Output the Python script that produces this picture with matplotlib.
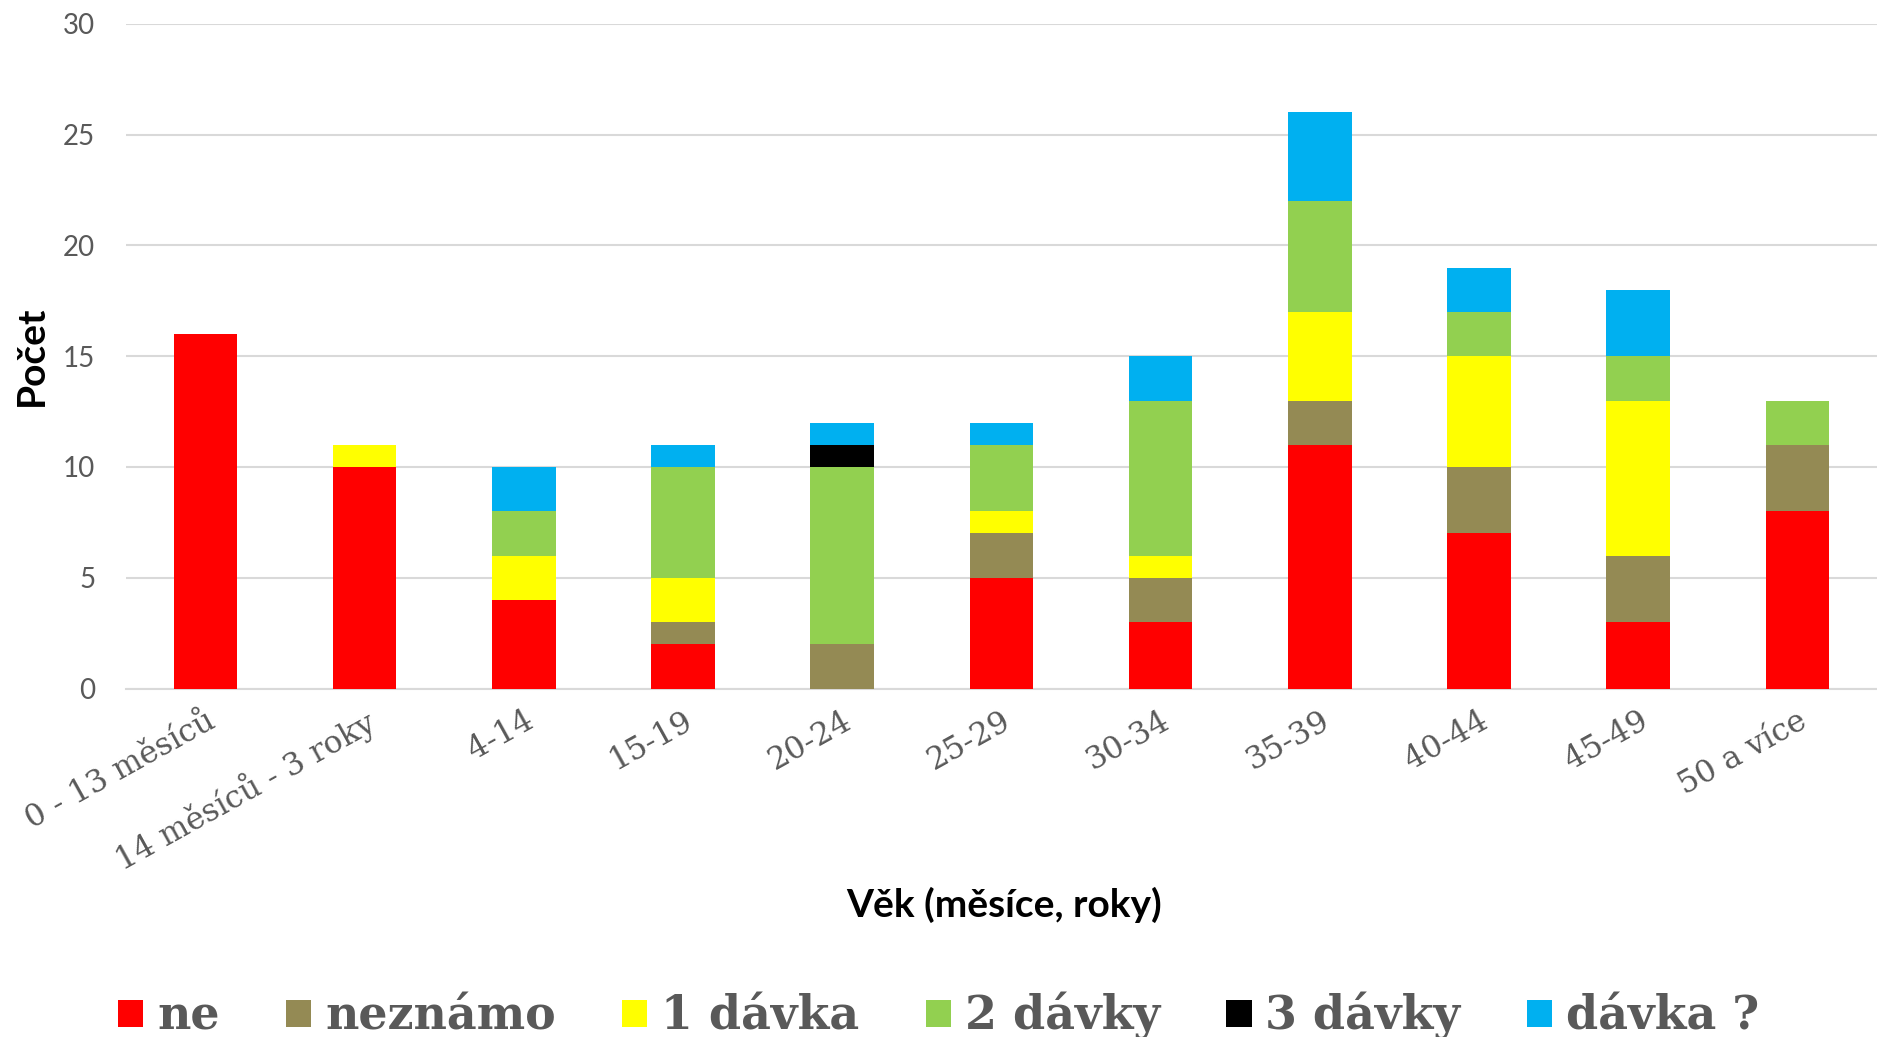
import numpy as np
import matplotlib
matplotlib.use("Agg")
import matplotlib.pyplot as plt

# age groups
categories = ["0 - 13 měsíců", "14 měsíců - 3 roky", "4-14", "15-19", "20-24",
              "25-29", "30-34", "35-39", "40-44", "45-49", "50 a více"]

# counts per vaccination status
ne       = [16, 10, 4, 2, 0, 5, 3, 11, 7, 3, 8]
neznamo  = [0, 0, 0, 1, 2, 2, 2, 2, 3, 3, 3]
davka1   = [0, 1, 2, 2, 0, 1, 1, 4, 5, 7, 0]
davky2   = [0, 0, 2, 5, 8, 3, 7, 5, 2, 2, 2]
davky3   = [0, 0, 0, 0, 1, 0, 0, 0, 0, 0, 0]
davka_q  = [0, 0, 2, 1, 1, 1, 2, 4, 2, 3, 0]

series = [ne, neznamo, davka1, davky2, davky3, davka_q]
labels = ["ne", "neznámo", "1 dávka", "2 dávky", "3 dávky", "dávka ?"]
colors = ["#FF0000", "#948A54", "#FFFF00", "#92D050", "#000000", "#00B0F0"]

grey = "#595959"
fig = plt.figure(figsize=(18.77, 10.37), dpi=100)
ax = fig.add_axes([0.067, 0.336, 0.933, 0.641])

x = np.arange(len(categories))
bottom = np.zeros(len(categories))
for vals, lab, col in zip(series, labels, colors):
    vals = np.array(vals, dtype=float)
    ax.bar(x, vals, 0.4, bottom=bottom, color=col, label=lab, zorder=3)
    bottom += vals

ax.set_xlim(-0.5, len(categories) - 0.5)
ax.set_ylim(0, 30)
ax.set_yticks(range(0, 31, 5))
ax.yaxis.grid(True, color="#d9d9d9", linewidth=1.5, zorder=0)
for s in ["top", "right", "left"]:
    ax.spines[s].set_visible(False)
ax.spines["bottom"].set_color("#d9d9d9")
ax.spines["bottom"].set_linewidth(1.5)
ax.tick_params(axis="both", length=0)
ax.tick_params(axis="y", pad=22, labelsize=20, labelcolor=grey)
for t in ax.get_yticklabels():
    t.set_family("Lato")

ax.set_xticks(x)
ax.set_xticklabels(categories, rotation=29, ha="right", rotation_mode="anchor",
                   family="DejaVu Serif", fontsize=22.5, color=grey)
ax.tick_params(axis="x", pad=12)

ax.set_ylabel("Počet", family="Lato", fontweight="bold", fontsize=28, labelpad=10)
fig.text(0.535, 0.127, "Věk (měsíce, roky)", family="Lato", fontweight="bold",
         fontsize=28, ha="center", va="center")

leg = fig.legend(loc="center", bbox_to_anchor=(0.5, 0.02), ncol=6, frameon=False,
                 prop={"family": "DejaVu Serif", "weight": "bold", "size": 33},
                 handlelength=0.55, handleheight=0.55, handletextpad=0.3,
                 columnspacing=1.45, borderpad=0)
for t in leg.get_texts():
    t.set_color(grey)

fig.savefig("out.png", dpi=100)
